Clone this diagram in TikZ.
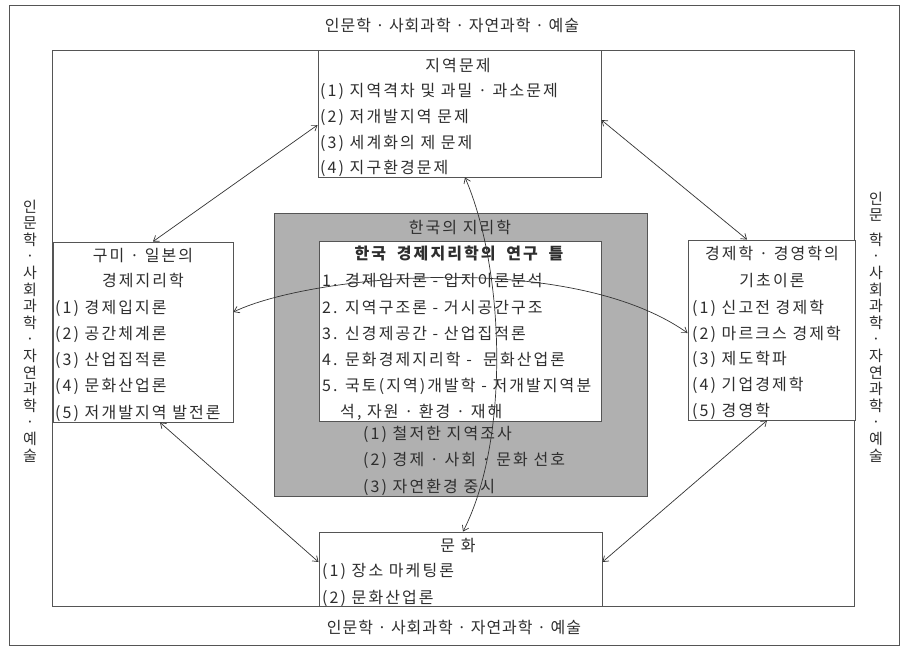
\documentclass[tikz,border=0pt]{standalone}
\usepackage{fontspec}
\setmainfont{Noto Sans CJK KR}[LetterSpace=13]
\newfontfamily\labelfont{Noto Sans CJK KR}[LetterSpace=6]
\usetikzlibrary{arrows.meta,calc}
\definecolor{ink}{HTML}{2E2E2E}
\definecolor{line}{HTML}{555555}
\definecolor{shade}{HTML}{B0B0B0}
\begin{document}
\begin{tikzpicture}[x=1pt,y=-1pt,
  box/.style={draw=line, line width=0.9pt, inner sep=0pt, fill=white},
  grayboxstyle/.style={draw=line, line width=0.9pt, inner sep=0pt, fill=shade},
  txt/.style={inner sep=0pt, anchor=base west, text=ink, font=\fontsize{16}{19}\selectfont},
  ttl/.style={txt, anchor=base},
  lbl/.style={inner sep=0pt, anchor=base, text=ink, font=\labelfont\fontsize{16}{19}\selectfont},
  side/.style={inner sep=0pt, align=center, text=ink, font=\labelfont\fontsize{15}{16.6}\selectfont},
  arr/.style={draw=black!80, line width=0.7pt, {Straight Barb[length=5pt,width=7pt]}-{Straight Barb[length=5pt,width=7pt]}}
]
\useasboundingbox (0,0) rectangle (900,648);
% outer border
\draw[line, line width=0.9pt] (9,5) rectangle (899,645);
% inner frame
\node[box, minimum width=802pt, minimum height=556pt] (frame) at (453,328) {};
% side texts
\node[lbl] (ttop) at (452,31) {인문학 · 사회과학 · 자연과학 · 예술};
\node[lbl] (tbot) at (454,633) {인문학 · 사회과학 · 자연과학 · 예술};
\node[side] (tleft) at (30,331) {인\\문\\학\\·\\사\\회\\과\\학\\·\\자\\연\\과\\학\\·\\예\\술};
\node[side] (tright) at (876,327) {인\\문\\[8pt]학\\·\\사\\회\\과\\학\\·\\자\\연\\과\\학\\·\\예\\술};

% top box
\node[box, minimum width=283pt, minimum height=127pt] (top) at (459.5,113.5) {};
\node[ttl] (top0) at (458,71) {지역문제};
\node[txt] (top1) at (320,96) {(1) 지역격차 및 과밀 · 과소문제};
\node[txt] (top2) at (320,122) {(2) 저개발지역 문제};
\node[txt] (top3) at (320,148) {(3) 세계화의 제 문제};
\node[txt] (top4) at (320,173) {(4) 지구환경문제};

% left box
\node[box, minimum width=180pt, minimum height=180pt] (left) at (143,332) {};
\node[ttl] (left0a) at (143,261) {구미 · 일본의};
\node[ttl] (left0b) at (143,286) {경제지리학};
\node[txt] (left1) at (55,313) {(1) 경제입지론};
\node[txt] (left2) at (55,339) {(2) 공간체계론};
\node[txt] (left3) at (55,365) {(3) 산업집적론};
\node[txt] (left4) at (55,391) {(4) 문화산업론};
\node[txt] (left5) at (55,418) {(5) 저개발지역 발전론};

% right box
\node[box, minimum width=167pt, minimum height=180pt] (right) at (771.5,330) {};
\node[ttl] (right0a) at (772,259) {경제학 · 경영학의};
\node[ttl] (right0b) at (772,286) {기초이론};
\node[txt] (right1) at (692,313) {(1) 신고전 경제학};
\node[txt] (right2) at (692,339) {(2) 마르크스 경제학};
\node[txt] (right3) at (692,364) {(3) 제도학파};
\node[txt] (right4) at (692,390) {(4) 기업경제학};
\node[txt] (right5) at (692,416) {(5) 경영학};

% center gray box
\node[grayboxstyle, minimum width=373pt, minimum height=283pt] (korea) at (460.5,354.5) {};
\node[ttl] (korea0) at (460,233) {한국의 지리학};
\node[box, minimum width=282pt, minimum height=180pt] (frameK) at (460,331) {};
\node[ttl, font=\fontsize{16}{19}\selectfont\bfseries] (frameK0) at (459,259) {한국\hspace{5pt} 경제지리학의\hspace{5pt} 연구\hspace{5pt} 틀};
\node[txt] (k1) at (322,286) {1. 경제입지론 - 입지이론분석};
\node[txt] (k2) at (322,313) {2. 지역구조론 - 거시공간구조};
\node[txt] (k3) at (322,339) {3. 신경제공간 - 산업집적론};
\node[txt] (k4) at (322,365) {4. 문화경제지리학 - \ 문화산업론};
\node[txt] (k5) at (322,391) {5. 국토(지역)개발학 - 저개발지역분};
\node[txt] (k5b) at (340,417) {석, 자원 · 환경 · 재해};
\node[txt] (ks1) at (363,439) {(1) 철저한 지역조사};
\node[txt] (ks2) at (363,465) {(2) 경제 · 사회 · 문화 선호};
\node[txt] (ks3) at (363,492) {(3) 자연환경 중시};

% bottom box
\node[box, minimum width=283pt, minimum height=74pt] (bottom) at (460.5,569) {};
\node[ttl] (bottom0) at (458,551) {문 화};
\node[txt] (bottom1) at (322,576) {(1) 장소 마케팅론};
\node[txt] (bottom2) at (322,603) {(2) 문화산업론};

% connectors
\draw[arr] ([xshift=10pt]left.north) -- ([yshift=-11.5pt]top.west);
\draw[arr] ([yshift=-6.5pt]top.east) -- ([xshift=-24.5pt]right.north);
\draw[arr] ([xshift=17pt]left.south) -- ([yshift=7pt]bottom.west);
\draw[arr] ([xshift=-4.5pt]right.south) -- ([yshift=7pt]bottom.east);
\draw[arr] ([yshift=20pt]left.east) .. controls (310,275) and (570,250) .. ([yshift=-3pt]right.west);
\draw[arr] ([xshift=5.5pt]top.south) .. controls (505,270) and (510,440) .. ([xshift=2.5pt]bottom.north);
\end{tikzpicture}
\end{document}
